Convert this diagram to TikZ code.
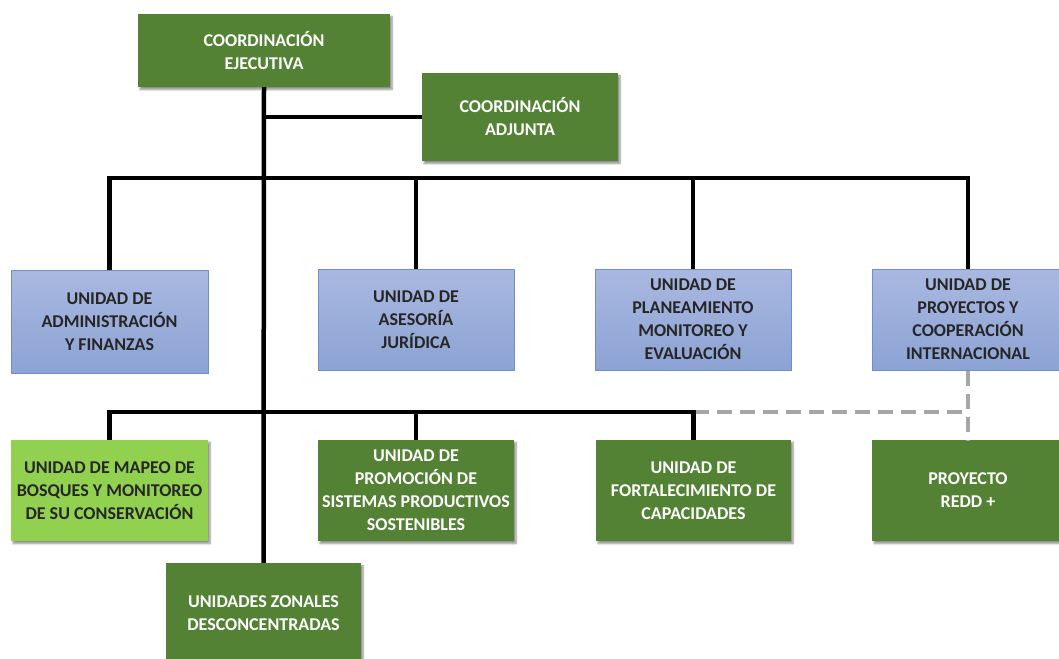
\documentclass[tikz,border=0pt]{standalone}
\usepackage{fontspec}
\setmainfont{Carlito}[BoldFont={Carlito Bold}]
\usetikzlibrary{shadows.blur}
\definecolor{darkgreen}{HTML}{548235}
\definecolor{lightgreen}{HTML}{92D050}
\definecolor{bluetop}{HTML}{A9B8E0}
\definecolor{bluebot}{HTML}{8CA3D4}
\definecolor{blueedge}{HTML}{6F8ED0}
\definecolor{darktext}{HTML}{262626}
\definecolor{dashgray}{HTML}{A6A6A6}
\tikzset{
  box/.style={rectangle, inner sep=0pt, align=center,
    font=\fontsize{18}{23}\selectfont\bfseries},
  greenbox/.style={box, fill=darkgreen, text=white,
    blur shadow={shadow xshift=2pt, shadow yshift=-2.5pt, shadow blur steps=6, shadow opacity=45}},
  limebox/.style={box, fill=lightgreen, text=darktext,
    blur shadow={shadow xshift=2pt, shadow yshift=-2.5pt, shadow blur steps=6, shadow opacity=45}},
  bluebox/.style={box, top color=bluetop, bottom color=bluebot, draw=blueedge,
    line width=1pt, text=darktext},
  conn/.style={line width=4.5pt, black},
  dashconn/.style={line width=4.5pt, dashgray, dash pattern=on 15pt off 8pt},
}
\begin{document}
\begin{tikzpicture}[x=1pt, y=-1pt]
  \useasboundingbox (0,0) rectangle (1059,658);

  % coordination level
  \node[greenbox, minimum width=252pt, minimum height=73pt] (ce) at (264,50.5)
    {COORDINACIÓN\\EJECUTIVA};
  \node[greenbox, minimum width=196pt, minimum height=88pt] (ca) at (520,117)
    {COORDINACIÓN\\ADJUNTA};

  % support units
  \node[bluebox, minimum width=197pt, minimum height=103pt] (ua) at (109.5,321.5)
    {UNIDAD DE\\ADMINISTRACIÓN\\Y FINANZAS};
  \node[bluebox, minimum width=196pt, minimum height=101pt] (uj) at (416,319.5)
    {UNIDAD DE\\ASESORÍA\\JURÍDICA};
  \node[bluebox, minimum width=196pt, minimum height=101pt] (up) at (693,319.5)
    {UNIDAD DE\\PLANEAMIENTO\\MONITOREO Y\\EVALUACIÓN};
  \node[bluebox, minimum width=192pt, minimum height=101pt] (uc) at (968,319.5)
    {UNIDAD DE\\PROYECTOS Y\\COOPERACIÓN\\INTERNACIONAL};

  % line units
  \node[limebox, minimum width=197pt, minimum height=101pt] (um) at (109.5,490.5)
    {UNIDAD DE MAPEO DE\\BOSQUES Y MONITOREO\\DE SU CONSERVACIÓN};
  \node[greenbox, minimum width=196pt, minimum height=101pt] (us) at (416,490.5)
    {UNIDAD DE\\PROMOCIÓN DE\\SISTEMAS PRODUCTIVOS\\SOSTENIBLES};
  \node[greenbox, minimum width=195pt, minimum height=101pt] (uf) at (693.5,490.5)
    {UNIDAD DE\\FORTALECIMIENTO DE\\CAPACIDADES};
  \node[greenbox, minimum width=192pt, minimum height=101pt] (pr) at (968,490.5)
    {PROYECTO\\REDD +};

  \node[greenbox, minimum width=195pt, minimum height=100pt] (uz) at (263.5,613)
    {UNIDADES ZONALES\\DESCONCENTRADAS};

  % bus levels
  \coordinate (topbus) at (0,178);
  \coordinate (midbus) at (0,412);

  % project link (dashed)
  \draw[dashconn] (uc.south) -- (pr.north);
  \draw[dashconn] (uf.north |- midbus) -- (pr.north |- midbus);

  % hierarchy lines
  \draw[conn] (ce.south) -- (uz.north);
  \draw[conn] (ca.west) -- (ca.west -| ce.south);
  \draw[conn] (ua.north) |- (uc.north |- topbus) -- (uc.north);
  \draw[conn] (uj.north) -- (uj.north |- topbus);
  \draw[conn] (up.north) -- (up.north |- topbus);
  \draw[conn] (um.north) |- (uf.north |- midbus) -- (uf.north);
  \draw[conn] (us.north) -- (us.north |- midbus);
\end{tikzpicture}
\end{document}
